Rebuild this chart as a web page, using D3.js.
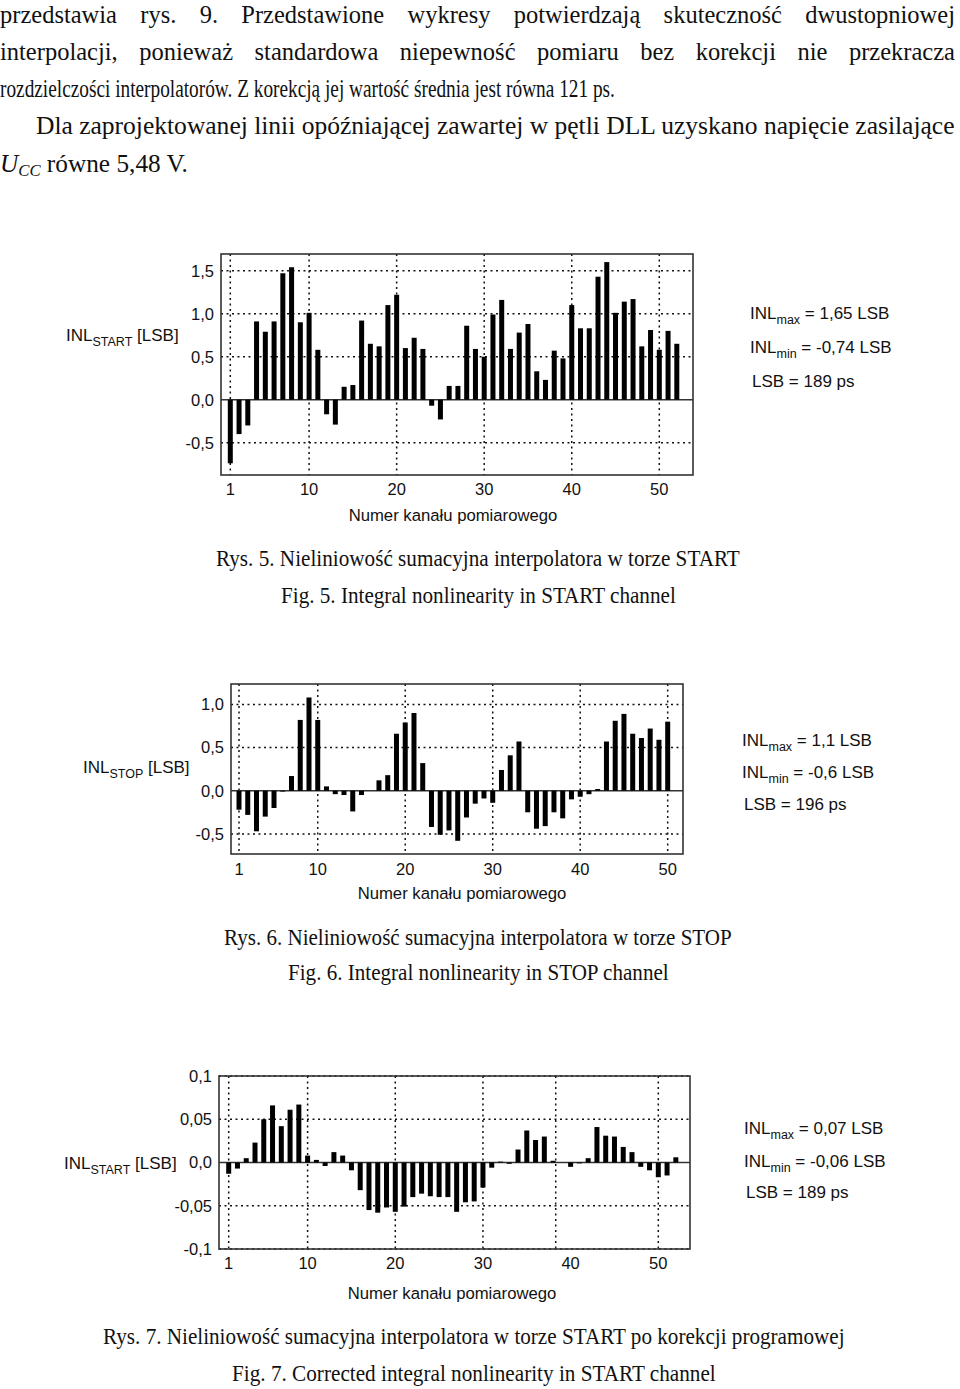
<!DOCTYPE html>
<html><head><meta charset="utf-8">
<script src="https://cdn.jsdelivr.net/npm/d3@7"></script>
<style>body{margin:0;background:#fff}svg{display:block}</style>
</head><body>
<svg id="c" width="960" height="1389"></svg>
<script>
// ---------- DATA ----------
const channelTicks = [1, 10, 20, 30, 40, 50];
const channelTickLabels = ["1", "10", "20", "30", "40", "50"];

// Rys. 5 – INL START (52 channels)
const inlStart = [-0.74,-0.40,-0.30,0.91,0.79,0.91,1.47,1.54,0.90,1.01,
  0.58,-0.17,-0.29,0.15,0.17,0.92,0.65,0.62,1.10,1.22,
  0.60,0.72,0.59,-0.07,-0.23,0.16,0.16,0.86,0.59,0.50,
  0.99,1.16,0.59,0.78,0.88,0.33,0.23,0.57,0.48,1.10,
  0.83,0.83,1.43,1.60,1.01,1.14,1.17,0.62,0.81,0.58,0.80,0.65];
// Rys. 6 – INL STOP (50 channels)
const inlStop = [-0.22,-0.28,-0.47,-0.30,-0.20,-0.01,0.17,0.82,1.08,0.82,
  0.05,-0.04,-0.05,-0.24,-0.05,0.0,0.12,0.18,0.66,0.79,
  0.90,0.32,-0.42,-0.51,-0.46,-0.58,-0.31,-0.15,-0.09,-0.14,
  0.24,0.41,0.57,-0.25,-0.44,-0.41,-0.25,-0.32,-0.10,-0.07,
  -0.04,0.02,0.57,0.81,0.89,0.66,0.61,0.72,0.59,0.80];
// Rys. 7 – corrected INL START (52 channels)
const inlStartCorr = [-0.013,-0.007,0.005,0.023,0.050,0.066,0.042,0.061,0.067,0.008,
  0.003,-0.004,0.012,0.008,-0.009,-0.032,-0.055,-0.058,-0.052,-0.057,
  -0.051,-0.040,-0.036,-0.039,-0.040,-0.040,-0.057,-0.046,-0.045,-0.029,
  -0.006,0.001,-0.0015,0.015,0.037,0.026,0.030,0.002,0.0,-0.005,
  -0.001,0.005,0.041,0.031,0.030,0.018,0.012,-0.005,-0.009,-0.017,-0.015,0.006];

const yTicks5 = [1.5, 1.0, 0.5, 0, -0.5];
const yTickLabels5 = ["1,5", "1,0", "0,5", "0,0", "-0,5"];
const yTicks6 = [1.0, 0.5, 0, -0.5];
const yTickLabels6 = ["1,0", "0,5", "0,0", "-0,5"];
const yTicks7 = [0.1, 0.05, 0, -0.05, -0.1];
const yTickLabels7 = ["0,1", "0,05", "0,0", "-0,05", "-0,1"];
const gridChannels5 = [1, 10, 20, 30, 40, 50];
const gridChannels6 = [1, 10, 20, 30, 40, 50];
const gridChannels7 = [1, 10, 20, 30, 38.3, 50];

const annot5 = [["INL", "max", " = 1,65 LSB"], ["INL", "min", " = -0,74 LSB"], ["LSB = 189 ps", "", ""]];
const annot6 = [["INL", "max", " = 1,1 LSB"], ["INL", "min", " = -0,6 LSB"], ["LSB = 196 ps", "", ""]];
const annot7 = [["INL", "max", " = 0,07 LSB"], ["INL", "min", " = -0,06 LSB"], ["LSB = 189 ps", "", ""]];

const bodyLines = [
  "przedstawia rys. 9. Przedstawione wykresy potwierdzają skuteczność dwustopniowej",
  "interpolacji, ponieważ standardowa niepewność pomiaru bez korekcji nie przekracza",
  "rozdzielczości interpolatorów. Z korekcją jej wartość średnia jest równa 121 ps.",
  "Dla zaprojektowanej linii opóźniającej zawartej w pętli DLL uzyskano napięcie zasilające"
];
const lastLineRest = " równe 5,48 V.";
const captions = [
  "Rys. 5. Nieliniowość sumacyjna interpolatora w torze START",
  "Fig. 5. Integral nonlinearity in START channel",
  "Rys. 6. Nieliniowość sumacyjna interpolatora w torze STOP",
  "Fig. 6. Integral nonlinearity in STOP channel",
  "Rys. 7. Nieliniowość sumacyjna interpolatora w torze START po korekcji programowej",
  "Fig. 7. Corrected integral nonlinearity in START channel"
];
const xTitle = "Numer kanału pomiarowego";

// ---------- LAYOUT ----------
const SANS = "'Liberation Sans', Arial, sans-serif";
const SERIF = "'Liberation Serif', 'Times New Roman', serif";
const svg = d3.select("#c");

const charts = [
  {values: inlStart, yTicks: yTicks5, yLabels: yTickLabels5, gridX: gridChannels5, annot: annot5, sub: "START",
   left: 221, right: 693, top: 254, bottom: 475, dom: [-0.876, 1.694], ch1: 230.3, ch50: 659.3,
   yLabX: 66, yLabY: 335, xTickY: 489, xTitleX: 453, xTitleY: 515, annX: 750, annY: [313, 347, 381]},
  {values: inlStop, yTicks: yTicks6, yLabels: yTickLabels6, gridX: gridChannels6, annot: annot6, sub: "STOP",
   left: 231, right: 683, top: 684, bottom: 854, dom: [-0.733, 1.236], ch1: 239, ch50: 667.7,
   yLabX: 83, yLabY: 767, xTickY: 869, xTitleX: 462, xTitleY: 893, annX: 742, annY: [740, 772, 804]},
  {values: inlStartCorr, yTicks: yTicks7, yLabels: yTickLabels7, gridX: gridChannels7, annot: annot7, sub: "START",
   left: 219, right: 690, top: 1076, bottom: 1249, dom: [-0.1, 0.1], ch1: 228.7, ch50: 658.3,
   yLabX: 64, yLabY: 1163, xTickY: 1263, xTitleX: 452, xTitleY: 1293, annX: 744, annY: [1128, 1161, 1192]}
];

charts.forEach(c => {
  const g = svg.append("g");
  const x = d3.scaleLinear().domain([1, 50]).range([c.ch1, c.ch50]);
  const y = d3.scaleLinear().domain(c.dom).range([c.bottom, c.top]);
  const barW = 5;

  g.selectAll(".hg").data(c.yTicks.filter(v => v !== 0)).join("line")
    .attr("x1", c.left).attr("x2", c.right)
    .attr("y1", d => y(d)).attr("y2", d => y(d))
    .attr("stroke", "#111").attr("stroke-width", 1.5).attr("stroke-dasharray", "2,3.5");
  g.selectAll(".vg").data(c.gridX).join("line")
    .attr("x1", d => x(d)).attr("x2", d => x(d))
    .attr("y1", c.top).attr("y2", c.bottom)
    .attr("stroke", "#111").attr("stroke-width", 1.5).attr("stroke-dasharray", "2,3.5");
  g.append("line").attr("x1", c.left).attr("x2", c.right)
    .attr("y1", y(0)).attr("y2", y(0)).attr("stroke", "#333").attr("stroke-width", 1.5);
  g.selectAll(".bar").data(c.values).join("rect")
    .attr("x", (d, i) => x(i + 1) - barW / 2)
    .attr("width", barW)
    .attr("y", d => Math.min(y(d), y(0)))
    .attr("height", d => Math.abs(y(d) - y(0)))
    .attr("fill", "#000");
  g.append("rect").attr("x", c.left).attr("y", c.top)
    .attr("width", c.right - c.left).attr("height", c.bottom - c.top)
    .attr("fill", "none").attr("stroke", "#333").attr("stroke-width", 1.6);

  g.selectAll(".yt").data(c.yTicks).join("text")
    .attr("x", c.left - 7).attr("y", d => y(d)).attr("dy", "0.36em")
    .attr("text-anchor", "end").attr("font-family", SANS).attr("font-size", 16.5).attr("fill", "#111")
    .text((d, i) => c.yLabels[i]);
  g.selectAll(".xt").data(channelTicks).join("text")
    .attr("x", d => x(d)).attr("y", c.xTickY).attr("dy", "0.36em")
    .attr("text-anchor", "middle").attr("font-family", SANS).attr("font-size", 16.5).attr("fill", "#111")
    .text((d, i) => channelTickLabels[i]);
  g.append("text").attr("x", c.xTitleX).attr("y", c.xTitleY).attr("dy", "0.36em")
    .attr("text-anchor", "middle").attr("font-family", SANS).attr("font-size", 16.7).attr("fill", "#111")
    .text(xTitle);
  const yt = g.append("text").attr("x", c.yLabX).attr("y", c.yLabY).attr("dy", "0.36em")
    .attr("font-family", SANS).attr("font-size", 17).attr("fill", "#111");
  yt.append("tspan").text("INL");
  yt.append("tspan").attr("font-size", 12.5).attr("dy", 5).text(c.sub);
  yt.append("tspan").attr("dy", -5).text(" [LSB]");
  c.annot.forEach((a, i) => {
    const t = g.append("text").attr("x", c.annX + (a[1] ? 0 : 2)).attr("y", c.annY[i]).attr("dy", "0.36em")
      .attr("font-family", SANS).attr("font-size", 17).attr("fill", "#111");
    t.append("tspan").text(a[0]);
    if (a[1]) {
      t.append("tspan").attr("font-size", 12.5).attr("dy", 5).text(a[1]);
      t.append("tspan").attr("dy", -5).text(a[2]);
    }
  });
});

// ---------- SERIF TEXT ----------
const FS = 25;
function measure(str, fs) {
  const t = svg.append("text").attr("font-family", SERIF).attr("font-size", fs).text(str);
  const w = t.node().getComputedTextLength();
  t.remove();
  return w;
}
function justified(str, x0, x1, base, k, fs) {
  const words = str.split(" ");
  const ws = words.map(w => measure(w, fs));
  const W = (x1 - x0) / k;
  const gap = (W - d3.sum(ws)) / (words.length - 1);
  const t = svg.append("text").attr("transform", `translate(${x0},${base}) scale(${k},1)`)
    .attr("font-family", SERIF).attr("font-size", fs).attr("fill", "#111");
  let cx = 0;
  words.forEach((w, i) => { t.append("tspan").attr("x", cx).attr("y", 0).text(w); cx += ws[i] + gap; });
}
function plain(str, x0, x1, base, fs) {
  const k = (x1 - x0) / measure(str, fs);
  svg.append("text").attr("transform", `translate(${x0},${base}) scale(${k},1)`)
    .attr("font-family", SERIF).attr("font-size", fs).attr("fill", "#111").text(str);
}
justified(bodyLines[0], 0, 955, 23, 0.98, FS);
justified(bodyLines[1], 0, 955, 60, 0.98, FS);
plain(bodyLines[2], 0, 615, 97, FS);
plain(bodyLines[3], 36, 955, 134, FS);
{
  const t = svg.append("text").attr("font-family", SERIF).attr("font-size", FS).attr("fill", "#111");
  t.append("tspan").attr("font-style", "italic").text("U");
  t.append("tspan").attr("font-style", "italic").attr("font-size", 16.5).attr("dy", 4).text("CC");
  t.append("tspan").attr("dy", -4).text(lastLineRest);
  const w = t.node().getComputedTextLength();
  t.attr("transform", `translate(0,172) scale(${188 / w},1)`);
}
const capPos = [[216, 740, 566], [281, 676, 603], [224, 732, 945], [288, 669, 980], [103, 845, 1344], [232, 716, 1381]];
captions.forEach((s, i) => plain(s, capPos[i][0], capPos[i][1], capPos[i][2], 24));
</script>
</body></html>
